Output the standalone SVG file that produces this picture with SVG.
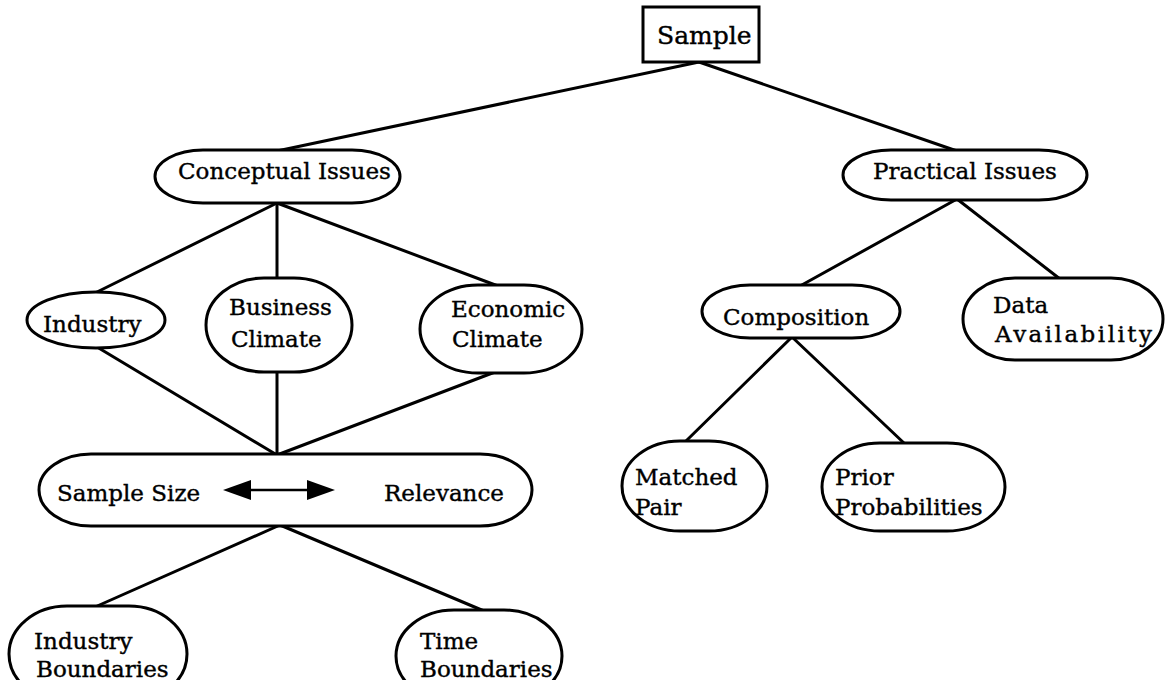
<svg xmlns="http://www.w3.org/2000/svg" width="1166" height="680" viewBox="0 0 1166 680">
<style>
.n{fill:#fff;stroke:#000;stroke-width:3}
.t{font-family:"DejaVu Serif","Liberation Serif",serif;font-size:23px;fill:#000;stroke:#000;stroke-width:0.4}
.c line{stroke:#000;stroke-width:3;stroke-linecap:round}
</style>
<defs>
<marker id="ah2" viewBox="0 0 28 20" refX="2" refY="10" markerWidth="28" markerHeight="20" markerUnits="userSpaceOnUse" orient="auto-start-reverse">
<path d="M0,0 L28,10 L0,20 Z" fill="#000"/>
</marker>
</defs>
<rect width="1166" height="680" fill="#fff"/>
<g class="c" id="connectors">
<line x1="699" y1="62" x2="277" y2="151"/>
<line x1="699" y1="62" x2="957" y2="151"/>
<line x1="277" y1="203" x2="95" y2="293"/>
<line x1="277" y1="203" x2="277" y2="279"/>
<line x1="277" y1="203" x2="498" y2="286"/>
<line x1="97" y1="347" x2="277" y2="455"/>
<line x1="277" y1="372" x2="277" y2="455"/>
<line x1="495" y1="372" x2="277" y2="455"/>
<line x1="280" y1="525" x2="95" y2="607"/>
<line x1="280" y1="525" x2="484" y2="611"/>
<line x1="957" y1="199" x2="800" y2="286"/>
<line x1="957" y1="199" x2="1060" y2="279"/>
<line x1="792" y1="337" x2="685" y2="442"/>
<line x1="792" y1="337" x2="905" y2="444"/>
</g>
<g id="sample">
<rect class="n" x="643" y="7" width="116" height="55"/>
<text class="t" x="657" y="44" style="font-size:25px">Sample</text>
</g>
<g id="conceptual">
<rect class="n" x="155" y="150" width="245" height="53" rx="48" ry="26.5"/>
<text class="t" x="178" y="179">Conceptual Issues</text>
</g>
<g id="practical">
<rect class="n" x="843" y="150" width="244" height="50" rx="48" ry="25"/>
<text class="t" x="873" y="179">Practical Issues</text>
</g>
<g id="industry">
<ellipse class="n" cx="96" cy="320" rx="69" ry="28"/>
<text class="t" x="43" y="332">Industry</text>
</g>
<g id="business">
<rect class="n" x="206" y="278" width="146" height="94" rx="58" ry="47"/>
<text class="t" x="229" y="315">Business</text>
<text class="t" x="231" y="347">Climate</text>
</g>
<g id="economic">
<rect class="n" x="420" y="285" width="162" height="88" rx="58" ry="44"/>
<text class="t" x="451" y="317">Economic</text>
<text class="t" x="452" y="347">Climate</text>
</g>
<g id="samplesize">
<rect class="n" x="39" y="454" width="493" height="72" rx="52" ry="36"/>
<text class="t" x="57" y="501">Sample Size</text>
<text class="t" x="384" y="501">Relevance</text>
<line x1="249" y1="490" x2="309" y2="490" stroke="#000" stroke-width="2.5" marker-start="url(#ah2)" marker-end="url(#ah2)"/>
</g>
<g id="industryboundaries">
<rect class="n" x="9" y="606" width="178" height="96" rx="58" ry="48"/>
<text class="t" x="34" y="649">Industry</text>
<text class="t" x="36" y="677">Boundaries</text>
</g>
<g id="timeboundaries">
<rect class="n" x="396" y="610" width="166" height="92" rx="58" ry="46"/>
<text class="t" x="420" y="649">Time</text>
<text class="t" x="420" y="677">Boundaries</text>
</g>
<g id="composition">
<rect class="n" x="702" y="285" width="198" height="53" rx="48" ry="26.5"/>
<text class="t" x="723" y="325">Composition</text>
</g>
<g id="dataavailability">
<rect class="n" x="963" y="278" width="200" height="82" rx="52" ry="41"/>
<text class="t" x="993" y="313">Data</text>
<text class="t" x="995" y="342" textLength="157" lengthAdjust="spacing">Availability</text>
</g>
<g id="matchedpair">
<rect class="n" x="622" y="441" width="145" height="90" rx="58" ry="45"/>
<text class="t" x="635" y="485">Matched</text>
<text class="t" x="635" y="515">Pair</text>
</g>
<g id="prior">
<rect class="n" x="822" y="443" width="183" height="88" rx="58" ry="44"/>
<text class="t" x="835" y="485">Prior</text>
<text class="t" x="835" y="515">Probabilities</text>
</g>
</svg>
